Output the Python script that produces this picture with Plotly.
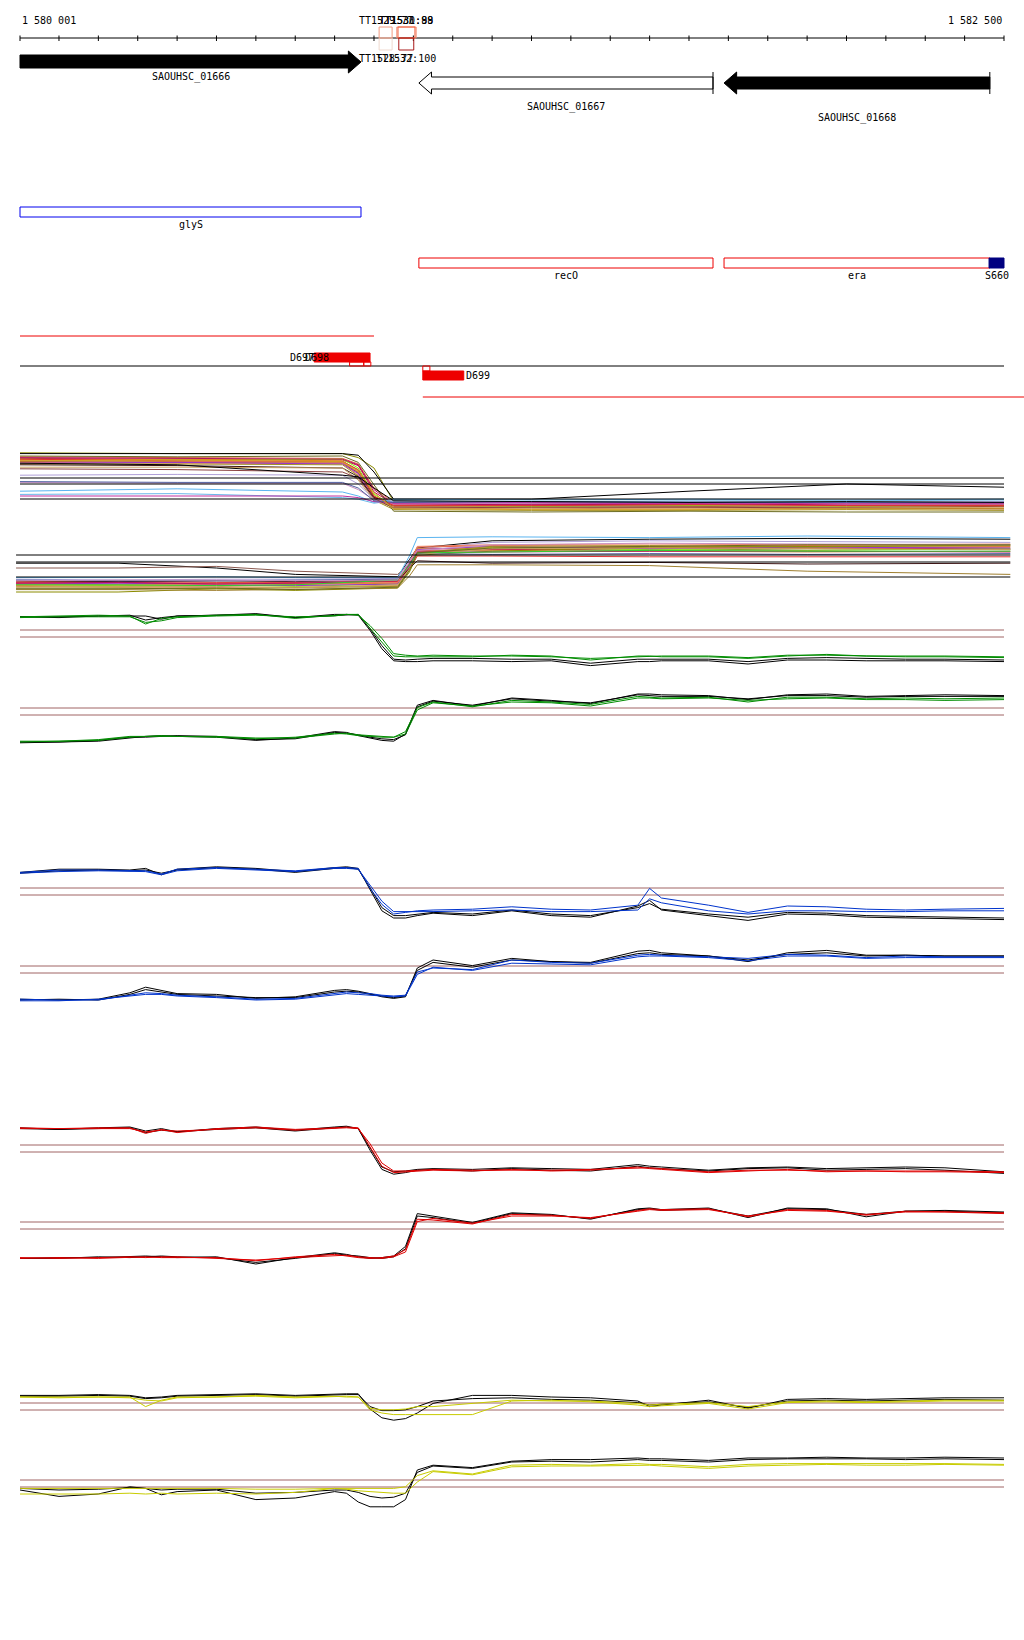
import plotly.graph_objects as go

# ===================== DATA =====================
region_start = 1580001
region_end = 1582500
ruler_ticks = [1580001] + list(range(1580100, 1582501, 100))
ruler_labels = ["1 580 001", "1 582 500"]

# genes (arrows)
gene_names = ["SAOUHSC_01666", "SAOUHSC_01667", "SAOUHSC_01668"]
gene_start = [1580001, 1581014, 1581789]
gene_end = [1580867, 1581761, 1582464]
gene_strand = ["+", "-", "-"]
gene_fill = ["black", "white", "black"]

# terminators
tt_names = ["TT1528:77", "TT1529:77", "TT1530:88", "TT1531:99", "TT1532:100"]
tt_start = [1580913, 1580913, 1580958, 1580961, 1580963]
tt_end = [1580946, 1580946, 1581007, 1581004, 1581001]
tt_strand = ["-", "+", "+", "+", "-"]
tt_color = ["#efd9cf", "#f29a80", "#f28a70", "#f0603f", "#a81818"]

# operon / gene names track
feat_names = ["glyS", "recO", "era"]
feat_start = [1580001, 1581014, 1581789]
feat_end = [1580867, 1581761, 1582464]
feat_color = ["#0000ee", "#ee0000", "#ee0000"]
site_name = "S660"
site_start, site_end = 1582462, 1582500

# transcribed segments
seg_names = ["D697", "D698", "D699"]
seg_fill_start = [1580748, 1581024]
seg_fill_end = [1580890, 1581128]
seg_box_start = [1580838, 1580874, 1581024]
seg_box_end = [1580874, 1580892, 1581042]
tx_line_start = [1580001, 1581024]
tx_line_end = [1580900, 1582560]

# ---- expression profiles (log2 intensity) ----
XS = [1580001, 1580100, 1580200, 1580280, 1580320, 1580360, 1580400, 1580500, 1580600, 1580700,
      1580800, 1580830, 1580860, 1580890, 1580920, 1580950, 1580980, 1581010, 1581050, 1581150,
      1581250, 1581350, 1581450, 1581570, 1581600, 1581630, 1581750, 1581850, 1581950, 1582050,
      1582150, 1582250, 1582350, 1582500]
thresholds = [10.25, 9.375]

green_up_1 = [11.9, 12.0, 12.1, 12.0, 11.0, 11.7, 11.9, 12.1, 12.2, 11.7, 12.1, 12.2, 12.2, 10.5, 8.8, 7.0, 6.9, 6.9, 6.9, 6.9, 7.1, 7.0, 6.5, 7.0, 7.0, 6.9, 6.9, 6.7, 7.0, 7.2, 7.0, 6.9, 6.9, 6.8]
green_up_2 = [11.8, 11.9, 11.9, 11.9, 11.2, 11.4, 11.8, 12.0, 12.1, 11.9, 12.0, 12.2, 12.1, 10.8, 9.2, 7.3, 7.1, 7.0, 7.1, 7.0, 7.0, 6.9, 6.7, 6.9, 7.0, 7.0, 7.0, 6.8, 7.1, 7.1, 7.0, 7.0, 7.0, 6.9]
green_up_k1 = [11.9, 11.8, 12.0, 12.0, 12.0, 11.6, 12.0, 12.1, 12.3, 11.8, 12.2, 12.2, 12.1, 10.2, 7.9, 6.4, 6.3, 6.3, 6.4, 6.4, 6.3, 6.4, 5.8, 6.3, 6.3, 6.4, 6.4, 6.0, 6.5, 6.5, 6.4, 6.4, 6.4, 6.3]
green_up_k2 = [11.9, 11.9, 12.0, 12.1, 11.5, 11.8, 12.0, 12.1, 12.2, 11.8, 12.1, 12.2, 12.2, 10.4, 8.3, 6.6, 6.5, 6.6, 6.7, 6.7, 6.6, 6.6, 6.1, 6.6, 6.6, 6.6, 6.6, 6.3, 6.7, 6.8, 6.7, 6.6, 6.6, 6.5]
green_lo_1 = [6.0, 6.1, 6.3, 6.7, 6.7, 6.7, 6.7, 6.6, 6.4, 6.6, 7.1, 7.0, 6.8, 6.7, 6.6, 6.6, 7.3, 10.3, 11.0, 10.4, 11.2, 11.0, 10.7, 11.7, 11.6, 11.5, 11.6, 11.0, 11.6, 11.6, 11.4, 11.5, 11.4, 11.5]
green_lo_2 = [6.1, 6.1, 6.2, 6.6, 6.7, 6.8, 6.7, 6.7, 6.5, 6.5, 7.0, 7.1, 6.9, 6.8, 6.7, 6.6, 7.0, 10.0, 10.9, 10.5, 11.0, 10.9, 10.5, 11.5, 11.5, 11.4, 11.5, 11.2, 11.4, 11.5, 11.3, 11.3, 11.2, 11.3]
green_lo_k1 = [6.0, 6.0, 6.1, 6.5, 6.7, 6.8, 6.7, 6.6, 6.2, 6.5, 7.3, 7.2, 6.8, 6.5, 6.2, 6.1, 7.0, 10.6, 11.2, 10.5, 11.5, 11.2, 10.8, 12.0, 12.0, 11.9, 11.8, 11.3, 11.9, 12.0, 11.7, 11.8, 11.9, 11.8]
green_lo_k2 = [5.9, 6.0, 6.2, 6.6, 6.6, 6.7, 6.8, 6.7, 6.3, 6.4, 7.2, 7.1, 6.9, 6.6, 6.4, 6.3, 6.9, 10.4, 11.1, 10.6, 11.4, 11.1, 10.9, 11.9, 11.8, 11.7, 11.7, 11.4, 11.8, 11.8, 11.6, 11.7, 11.7, 11.7]

blue_up_1 = [12.2, 12.5, 12.5, 12.4, 12.4, 12.0, 12.6, 12.8, 12.6, 12.4, 12.8, 12.8, 12.7, 10.2, 8.2, 7.0, 7.2, 7.4, 7.5, 7.6, 7.9, 7.6, 7.5, 8.1, 10.2, 9.0, 8.1, 7.2, 8.0, 7.9, 7.6, 7.5, 7.6, 7.7]
blue_up_2 = [12.1, 12.3, 12.4, 12.3, 12.3, 11.9, 12.4, 12.7, 12.5, 12.3, 12.7, 12.7, 12.6, 10.6, 8.6, 7.3, 7.3, 7.3, 7.3, 7.4, 7.5, 7.3, 7.3, 7.5, 8.9, 8.4, 7.4, 7.0, 7.4, 7.4, 7.3, 7.3, 7.4, 7.4]
blue_up_k1 = [12.2, 12.6, 12.6, 12.5, 12.7, 11.9, 12.6, 12.9, 12.7, 12.3, 12.8, 12.9, 12.7, 10.0, 7.4, 6.5, 6.5, 6.8, 7.1, 6.8, 7.4, 6.8, 6.6, 8.0, 8.7, 7.5, 6.8, 6.2, 7.0, 6.9, 6.6, 6.5, 6.4, 6.3]
blue_up_k2 = [12.1, 12.4, 12.5, 12.4, 12.5, 12.1, 12.5, 12.8, 12.6, 12.2, 12.7, 12.8, 12.6, 10.3, 7.8, 6.8, 6.8, 7.0, 7.2, 7.0, 7.5, 7.0, 6.8, 7.8, 8.3, 7.6, 7.0, 6.6, 7.2, 7.1, 6.8, 6.7, 6.6, 6.5]
blue_lo_1 = [6.1, 6.0, 6.0, 6.6, 6.9, 6.8, 6.6, 6.4, 6.1, 6.2, 6.8, 7.0, 6.9, 6.8, 6.6, 6.5, 6.6, 9.5, 10.0, 9.8, 11.0, 10.7, 10.6, 11.6, 11.7, 11.6, 11.4, 11.2, 11.7, 11.6, 11.3, 11.5, 11.4, 11.4]
blue_lo_2 = [5.9, 5.9, 6.1, 6.5, 6.7, 6.7, 6.5, 6.3, 6.0, 6.1, 6.6, 6.8, 6.7, 6.6, 6.5, 6.4, 6.5, 9.2, 10.1, 9.7, 10.6, 10.5, 10.4, 11.4, 11.5, 11.5, 11.3, 10.9, 11.5, 11.5, 11.2, 11.3, 11.3, 11.3]
blue_lo_k1 = [6.1, 6.0, 6.1, 6.9, 7.6, 7.2, 6.8, 6.7, 6.2, 6.4, 7.2, 7.3, 7.1, 6.8, 6.4, 6.2, 6.4, 10.0, 11.0, 10.3, 11.2, 10.8, 10.7, 12.1, 12.2, 11.9, 11.5, 10.8, 11.9, 12.2, 11.6, 11.6, 11.5, 11.5]
blue_lo_k2 = [6.0, 6.1, 6.0, 6.7, 7.3, 7.0, 6.7, 6.5, 6.3, 6.3, 7.0, 7.1, 7.0, 6.7, 6.5, 6.3, 6.5, 9.7, 10.7, 10.1, 11.0, 10.8, 10.6, 11.8, 11.9, 11.7, 11.5, 11.0, 11.7, 11.9, 11.5, 11.6, 11.5, 11.5]

red_up_1 = [12.4, 12.3, 12.4, 12.4, 11.7, 12.2, 11.8, 12.3, 12.5, 12.2, 12.4, 12.5, 12.4, 10.0, 7.6, 6.8, 6.9, 7.0, 7.1, 7.0, 7.2, 7.0, 7.1, 7.5, 7.3, 7.2, 6.8, 7.0, 7.2, 6.9, 7.0, 6.9, 6.9, 6.8]
red_up_2 = [12.3, 12.3, 12.3, 12.3, 11.9, 12.1, 12.0, 12.2, 12.4, 12.1, 12.3, 12.4, 12.3, 10.4, 8.0, 7.0, 7.0, 7.1, 7.2, 7.1, 7.1, 7.1, 7.2, 7.4, 7.4, 7.3, 6.9, 7.1, 7.1, 7.0, 7.0, 7.0, 7.0, 6.9]
red_up_k1 = [12.4, 12.2, 12.4, 12.5, 12.0, 12.3, 11.9, 12.3, 12.5, 12.1, 12.5, 12.6, 12.3, 9.6, 7.2, 6.6, 6.8, 7.1, 7.2, 7.0, 7.3, 7.1, 7.0, 7.6, 7.4, 7.3, 7.0, 7.3, 7.4, 7.1, 7.2, 7.3, 7.1, 6.7]
red_up_k2 = [12.3, 12.2, 12.3, 12.4, 11.8, 12.1, 11.9, 12.2, 12.4, 12.0, 12.4, 12.5, 12.3, 9.9, 7.5, 6.9, 7.0, 7.2, 7.3, 7.2, 7.4, 7.3, 7.2, 7.8, 7.6, 7.5, 7.1, 7.4, 7.5, 7.3, 7.4, 7.5, 7.4, 6.9]
red_lo_1 = [5.7, 5.8, 5.7, 5.8, 5.9, 5.8, 5.8, 5.8, 5.4, 5.9, 6.2, 6.0, 5.8, 5.7, 5.8, 6.0, 6.8, 10.6, 10.5, 10.0, 11.2, 11.1, 10.7, 11.7, 11.9, 11.8, 11.9, 10.9, 11.8, 11.7, 11.1, 11.6, 11.5, 11.4]
red_lo_2 = [5.8, 5.7, 5.8, 5.9, 5.8, 5.9, 5.9, 5.7, 5.5, 5.8, 6.1, 6.1, 5.9, 5.8, 5.7, 5.9, 6.5, 10.3, 10.7, 10.1, 11.0, 11.0, 10.8, 11.6, 11.8, 11.7, 11.8, 11.0, 11.7, 11.6, 11.2, 11.5, 11.5, 11.3]
red_lo_k1 = [5.7, 5.8, 5.8, 5.9, 6.0, 5.9, 5.8, 5.9, 5.0, 5.8, 6.4, 6.2, 5.9, 5.7, 5.8, 6.0, 7.2, 11.3, 11.0, 10.2, 11.4, 11.2, 10.6, 11.9, 12.0, 11.8, 12.0, 10.8, 12.0, 11.9, 10.9, 11.6, 11.7, 11.5]
red_lo_k2 = [5.7, 5.7, 5.9, 5.8, 5.9, 6.0, 5.9, 5.8, 5.2, 5.7, 6.3, 6.1, 6.0, 5.8, 5.7, 5.9, 6.9, 11.0, 10.8, 10.1, 11.3, 11.1, 10.7, 11.8, 11.9, 11.7, 11.9, 11.0, 11.9, 11.8, 11.2, 11.6, 11.6, 11.4]

yellow_up_1 = [11.0, 11.0, 11.0, 11.0, 9.8, 10.6, 11.0, 11.0, 11.2, 11.0, 11.1, 11.0, 11.0, 9.4, 9.0, 8.8, 8.8, 8.8, 8.8, 8.8, 10.5, 10.6, 10.4, 10.0, 9.8, 9.9, 10.2, 9.5, 10.3, 10.4, 10.3, 10.4, 10.5, 10.5]
yellow_up_2 = [11.0, 10.9, 11.0, 10.9, 10.6, 10.5, 10.9, 11.0, 11.1, 10.9, 11.0, 11.1, 11.0, 9.6, 9.4, 9.4, 9.5, 9.8, 9.8, 10.2, 10.6, 10.5, 10.5, 10.2, 10.0, 10.1, 10.3, 9.8, 10.4, 10.5, 10.4, 10.5, 10.6, 10.6]
yellow_up_k1 = [11.2, 11.2, 11.3, 11.2, 10.9, 11.0, 11.2, 11.3, 11.4, 11.2, 11.4, 11.4, 11.4, 9.5, 8.4, 8.1, 8.3, 9.0, 10.2, 11.2, 11.2, 11.0, 10.9, 10.5, 9.8, 10.0, 10.6, 9.6, 10.7, 10.8, 10.7, 10.8, 10.9, 10.9]
yellow_up_k2 = [11.1, 11.1, 11.2, 11.1, 10.8, 10.9, 11.1, 11.2, 11.3, 11.1, 11.3, 11.3, 11.3, 9.8, 9.3, 9.3, 9.4, 9.8, 10.5, 10.8, 10.9, 10.7, 10.6, 10.3, 10.0, 10.1, 10.4, 9.7, 10.5, 10.6, 10.5, 10.6, 10.7, 10.6]
yellow_lo_1 = [9.2, 9.2, 9.2, 9.2, 9.2, 9.2, 9.2, 9.2, 9.1, 9.1, 9.2, 9.2, 9.2, 9.2, 9.2, 9.2, 9.4, 10.8, 11.4, 11.0, 12.1, 12.2, 12.1, 12.3, 12.2, 12.2, 11.9, 12.2, 12.3, 12.3, 12.3, 12.3, 12.3, 12.2]
yellow_lo_2 = [8.5, 8.5, 8.5, 8.6, 8.5, 8.6, 8.5, 8.6, 8.5, 8.7, 9.2, 9.1, 8.9, 8.8, 8.7, 8.6, 8.6, 10.0, 11.3, 10.9, 11.9, 12.0, 12.0, 12.1, 12.1, 12.0, 11.7, 12.0, 12.1, 12.2, 12.1, 12.1, 12.2, 12.1]
yellow_lo_k1 = [9.0, 8.2, 8.5, 9.4, 9.2, 8.4, 8.8, 9.0, 7.8, 8.0, 8.8, 8.6, 7.5, 6.9, 6.9, 6.9, 7.8, 11.5, 12.1, 11.8, 12.6, 12.8, 12.8, 13.0, 12.9, 12.9, 12.7, 13.0, 13.0, 13.1, 13.0, 13.0, 13.1, 13.0]
yellow_lo_k2 = [9.2, 9.0, 9.1, 9.3, 9.2, 9.0, 9.1, 9.1, 8.6, 8.7, 9.0, 9.0, 8.7, 8.2, 8.0, 8.1, 8.6, 11.2, 12.0, 11.7, 12.5, 12.6, 12.5, 12.8, 12.7, 12.7, 12.5, 12.8, 12.9, 12.9, 12.9, 12.8, 12.9, 12.8]

# ---- many-condition overview panels ----
XA = [1580001, 1580400, 1580820, 1580860, 1580900, 1580950, 1581300, 1581700, 1582100, 1582500]
panelA_refs = [9.25, 8.5, 6.625]
panelA_colors = ["#8b8b00", "#000000", "#e8603c", "#c8104c", "#7cfc00", "#e08a20", "#d4884c", "#a0522d",
                 "#f08060", "#9932cc", "#a09020", "#3c1414", "#b01060", "#c8a060", "#b0a0d8", "#c890c0",
                 "#5ab4f0", "#6ab8ea", "#c030a0", "#5060a0", "#e03030", "#6b6b20", "#8b4040", "#d0a020",
                 "#000000"]
panelA_values = [
    [12.4, 12.3, 12.3, 11.8, 10.5, 6.3, 6.2, 6.0, 5.9, 5.9],
    [12.3, 12.3, 12.3, 12.1, 10.0, 6.6, 6.6, 7.6, 8.5, 8.1],
    [11.9, 11.8, 11.7, 11.0, 8.0, 6.2, 6.1, 6.1, 6.0, 6.2],
    [11.7, 11.6, 11.5, 10.8, 7.5, 6.0, 6.0, 5.9, 5.9, 5.8],
    [11.6, 11.5, 11.6, 10.5, 7.2, 5.8, 5.7, 5.8, 5.7, 5.8],
    [11.5, 11.6, 11.4, 10.2, 7.0, 5.6, 5.6, 5.5, 5.6, 5.5],
    [11.4, 11.3, 11.2, 10.0, 6.8, 5.5, 5.4, 5.5, 5.4, 5.4],
    [11.3, 11.2, 11.1, 9.9, 6.9, 5.7, 5.8, 5.7, 5.6, 5.7],
    [11.2, 11.1, 11.1, 9.6, 6.7, 5.9, 5.9, 6.0, 5.9, 6.0],
    [11.1, 11.2, 11.0, 9.8, 6.6, 6.1, 6.0, 6.1, 6.0, 6.1],
    [11.0, 11.0, 10.9, 9.5, 6.5, 5.3, 5.2, 5.2, 5.3, 5.2],
    [10.9, 10.8, 10.5, 9.4, 6.8, 6.2, 6.3, 6.2, 6.2, 6.1],
    [11.8, 11.7, 11.6, 10.9, 7.8, 6.0, 5.9, 6.0, 5.9, 5.9],
    [10.6, 10.6, 10.5, 9.0, 6.4, 5.6, 5.5, 5.6, 5.6, 5.5],
    [9.6, 9.7, 9.6, 8.5, 6.6, 6.3, 6.2, 6.3, 6.2, 6.3],
    [8.7, 8.6, 8.6, 7.8, 6.5, 6.0, 6.1, 6.2, 6.0, 6.0],
    [7.6, 7.9, 7.5, 7.0, 6.2, 6.6, 6.5, 6.6, 6.5, 6.6],
    [7.2, 7.3, 6.8, 6.6, 6.1, 6.4, 6.3, 6.4, 6.4, 6.5],
    [7.0, 7.0, 7.0, 6.8, 6.3, 6.1, 6.2, 6.0, 6.1, 6.1],
    [8.8, 8.7, 8.7, 8.0, 6.4, 6.2, 6.3, 6.2, 6.2, 6.2],
    [11.6, 11.4, 11.3, 10.3, 7.0, 5.8, 5.8, 5.9, 5.8, 5.8],
    [12.0, 11.9, 12.0, 11.2, 8.4, 5.1, 5.0, 5.1, 5.0, 5.0],
    [10.4, 10.3, 10.0, 9.2, 6.7, 5.5, 5.6, 5.6, 5.5, 5.4],
    [11.4, 11.5, 11.3, 10.1, 7.4, 5.4, 5.3, 5.3, 5.4, 5.4],
    [11.1, 10.9, 9.6, 9.4, 8.0, 6.4, 6.3, 6.2, 6.3, 6.2],
]

XB = [1579991, 1580250, 1580500, 1580700, 1580960, 1580990, 1581010, 1581200, 1581600, 1582000, 1582516]
panelB_refs = [9.625, 8.75, 6.875]
panelB_colors = ["#000000", "#8b5a50", "#5ab4f0", "#b0a0d8", "#e8603c", "#c8104c", "#7cfc00", "#e08a20",
                 "#d4884c", "#9932cc", "#a09020", "#8b8b00", "#e03030", "#3c1414", "#a08030", "#f08060",
                 "#5060a0", "#b01060", "#c8a060", "#32cd32", "#c890c0", "#6b6b20"]
panelB_values = [
    [8.6, 8.6, 8.0, 7.2, 6.9, 9.0, 10.5, 11.4, 11.6, 11.7, 11.6],
    [8.0, 8.0, 8.2, 7.6, 7.2, 8.5, 10.0, 10.3, 10.2, 10.4, 10.3],
    [6.8, 6.8, 6.9, 6.8, 6.8, 9.5, 11.8, 11.9, 11.8, 12.0, 11.8],
    [6.6, 6.5, 6.6, 6.6, 6.7, 9.0, 10.4, 11.2, 11.4, 11.3, 11.2],
    [6.3, 6.4, 6.2, 6.1, 6.3, 8.6, 10.6, 10.8, 10.7, 10.8, 10.7],
    [6.1, 6.0, 6.1, 6.0, 6.2, 8.4, 10.2, 10.3, 10.4, 10.5, 10.4],
    [5.9, 5.8, 5.9, 5.7, 6.0, 8.0, 9.8, 10.6, 10.3, 10.2, 10.4],
    [5.8, 5.7, 5.8, 5.9, 6.1, 8.3, 10.4, 10.5, 10.6, 10.5, 10.6],
    [5.7, 5.6, 5.6, 5.6, 5.8, 8.1, 10.1, 10.2, 10.1, 10.0, 10.1],
    [6.0, 6.1, 5.9, 5.8, 6.0, 8.2, 10.3, 10.7, 10.4, 10.6, 10.5],
    [5.5, 5.5, 5.4, 5.5, 5.7, 7.8, 9.9, 10.7, 10.8, 10.6, 10.9],
    [5.0, 5.0, 5.4, 5.2, 5.5, 7.5, 9.6, 10.1, 10.6, 10.7, 10.8],
    [6.2, 6.2, 6.1, 6.2, 6.3, 8.0, 9.5, 9.5, 9.4, 9.4, 9.4],
    [6.4, 6.3, 6.4, 6.3, 6.5, 8.0, 8.9, 8.6, 8.7, 8.5, 8.6],
    [5.3, 5.3, 5.2, 5.3, 5.5, 7.0, 8.4, 8.4, 8.3, 7.6, 7.2],
    [6.0, 5.9, 6.0, 6.1, 6.2, 8.6, 10.7, 10.9, 11.0, 10.9, 11.0],
    [6.5, 6.4, 6.4, 6.5, 6.6, 8.4, 9.8, 9.7, 9.8, 9.7, 9.8],
    [6.1, 6.2, 6.0, 6.1, 6.4, 8.5, 10.0, 10.0, 10.1, 10.1, 10.0],
    [5.6, 5.7, 5.7, 5.5, 5.9, 7.9, 9.7, 10.4, 10.5, 10.4, 10.3],
    [5.9, 5.9, 5.8, 5.9, 6.5, 8.4, 9.9, 10.0, 10.2, 10.1, 10.1],
    [6.4, 6.5, 6.5, 6.4, 6.5, 8.8, 10.2, 10.9, 11.1, 11.0, 10.9],
    [5.4, 5.4, 5.5, 5.3, 5.6, 7.7, 9.9, 10.5, 10.7, 10.9, 10.9],
]

# ===================== LAYOUT / STYLE =====================
W, H = 1024, 1640
PX_PER_BP = 984 / (region_end - region_start)
X_RANGE = [region_start - 20 / PX_PER_BP, region_start + 1004 / PX_PER_BP]
FONT = dict(family="DejaVu Sans Mono", size=10, color="black")
ANN_ROWS = 410  # annotation area height (rows)
REF_COLOR = "#a06464"


def dom(top, h=80):
    return [1 - (top + h) / H, 1 - top / H]


panel_tops = {"y2": 440, "y3": 520, "y4": 600, "y5": 678, "y6": 858,
              "y7": 936, "y8": 1115, "y9": 1192, "y10": 1373, "y11": 1450}

fig = go.Figure()
shapes = []
annotations = []


def line(x, y, color, yaxis="y", width=1):
    fig.add_trace(go.Scatter(x=x, y=y, mode="lines", xaxis="x", yaxis=yaxis,
                             line=dict(color=color, width=width),
                             hoverinfo="skip", showlegend=False))


def text(x, y, s, anchor="center"):
    annotations.append(dict(x=x, y=y, xref="x", yref="y", text=s, showarrow=False,
                            font=FONT, xanchor=anchor, yanchor="middle"))


def rect(x0, x1, y0, y1, color, fill="rgba(0,0,0,0)", width=1):
    shapes.append(dict(type="rect", xref="x", yref="y", x0=x0, x1=x1, y0=y0, y1=y1,
                       line=dict(color=color, width=width), fillcolor=fill, layer="above"))


# ---- ruler ----
line([region_start, region_end], [38, 38], "black")
tx, ty = [], []
for t in ruler_ticks:
    tx += [t, t, None]
    ty += [35.5, 41, None]
line(tx, ty, "black")
text(region_start, 20, ruler_labels[0], "left")
text(region_end, 20, ruler_labels[1], "right")

# ---- terminators ----
for n, s, e, st, c in zip(tt_names, tt_start, tt_end, tt_strand, tt_color):
    if st == "+":
        rect(s, e, 27, 38, c)
        text((s + e) / 2, 20, n)
    else:
        rect(s, e, 38, 50, c)
        text((s + e) / 2, 58, n)

# ---- genes ----
HEAD = 32
gene_rows = [(55, 68, 51, 73), (77, 89, 72, 94), (77, 89, 72, 94)]
gene_label_rows = [76.5, 106.5, 118]
for i, name in enumerate(gene_names):
    s, e = gene_start[i], gene_end[i]
    bt, bb, ht, hb = gene_rows[i]
    mid = (ht + hb) / 2
    if gene_strand[i] == "+":
        h0 = e - HEAD
        xs = [s, h0, h0, e, h0, h0, s, s]
    else:
        h0 = s + HEAD
        xs = [e, h0, h0, s, h0, h0, e, e]
    ys = [bt, bt, ht, mid, hb, bb, bb, bt]
    fig.add_trace(go.Scatter(x=xs, y=ys, mode="lines", fill="toself", fillcolor=gene_fill[i],
                             line=dict(color="black", width=1), xaxis="x", yaxis="y",
                             hoverinfo="skip", showlegend=False))
    if gene_strand[i] == "-":
        line([e, e], [ht, hb], "black")
    text((s + e) / 2, gene_label_rows[i], name)

# ---- gene-name features ----
feat_rows = [(207, 217, 224), (258, 268, 275), (258, 268, 275)]
for n, s, e, c, (y0, y1, ly) in zip(feat_names, feat_start, feat_end, feat_color, feat_rows):
    rect(s, e, y0, y1, c)
    text((s + e) / 2, ly, n)
rect(site_start, site_end, 258, 268, "#000080", "#000080")
text((site_start + site_end) / 2, 275, site_name)

# ---- transcribed segments ----
line([tx_line_start[0], tx_line_end[0]], [336, 336], "#ee0000")
line([tx_line_start[1], tx_line_end[1]], [397, 397], "#ee0000")
line([region_start, region_end], [366, 366], "black")
rect(seg_fill_start[0], seg_fill_end[0], 353, 362, "#ee0000", "#ee0000")
rect(seg_box_start[0], seg_box_end[0], 362, 366, "#ee0000")
rect(seg_box_start[1], seg_box_end[1], 362, 366, "#ee0000")
rect(seg_box_start[2], seg_box_end[2], 366, 371, "#ee0000")
rect(seg_fill_start[1], seg_fill_end[1], 371, 380, "#ee0000", "#ee0000")
text(1580717, 357, seg_names[0])
text(1580755, 357, seg_names[1])
text(seg_fill_end[1], 375, seg_names[2], "left")

# ---- overview panels ----
for c, v in zip(panelA_colors, panelA_values):
    line(XA[:len(v)], v, c, "y2")
for r in panelA_refs:
    line([region_start, region_end], [r, r], "black", "y2")
for c, v in zip(panelB_colors, panelB_values):
    line(XB[:len(v)], v, c, "y3")
for r in panelB_refs:
    line([XB[0], XB[-1]], [r, r], "black", "y3")

# ---- single-condition panels ----
single = [
    ("y4", "#008c00", [green_up_1, green_up_2], [green_up_k1, green_up_k2]),
    ("y5", "#008c00", [green_lo_1, green_lo_2], [green_lo_k1, green_lo_k2]),
    ("y6", "#0033cc", [blue_up_1, blue_up_2], [blue_up_k1, blue_up_k2]),
    ("y7", "#0033cc", [blue_lo_1, blue_lo_2], [blue_lo_k1, blue_lo_k2]),
    ("y8", "#e00000", [red_up_1, red_up_2], [red_up_k1, red_up_k2]),
    ("y9", "#e00000", [red_lo_1, red_lo_2], [red_lo_k1, red_lo_k2]),
    ("y10", "#c8cc00", [yellow_up_1, yellow_up_2], [yellow_up_k1, yellow_up_k2]),
    ("y11", "#c8cc00", [yellow_lo_1, yellow_lo_2], [yellow_lo_k1, yellow_lo_k2]),
]
for ax, col, cols, blacks in single:
    for r in thresholds:
        line([region_start, region_end], [r, r], REF_COLOR, ax)
    for v in blacks:
        line(XS[:len(v)], v, "black", ax)
    for v in cols:
        line(XS[:len(v)], v, col, ax)

layout = dict(
    width=W, height=H, margin=dict(l=0, r=0, t=0, b=0, pad=0),
    paper_bgcolor="white", plot_bgcolor="white", showlegend=False,
    xaxis=dict(range=X_RANGE, visible=False, fixedrange=True),
    yaxis=dict(domain=[1 - ANN_ROWS / H, 1], range=[ANN_ROWS, 0], visible=False, fixedrange=True),
    shapes=shapes, annotations=annotations,
)
for ax, top in panel_tops.items():
    layout["yaxis" + ax[1:]] = dict(domain=dom(top), range=[4, 14], visible=False,
                                    anchor="x", fixedrange=True)
fig.update_layout(**layout)

fig.write_html("out.html", post_script="document.body.style.margin='0';",
               config={"displayModeBar": False})
